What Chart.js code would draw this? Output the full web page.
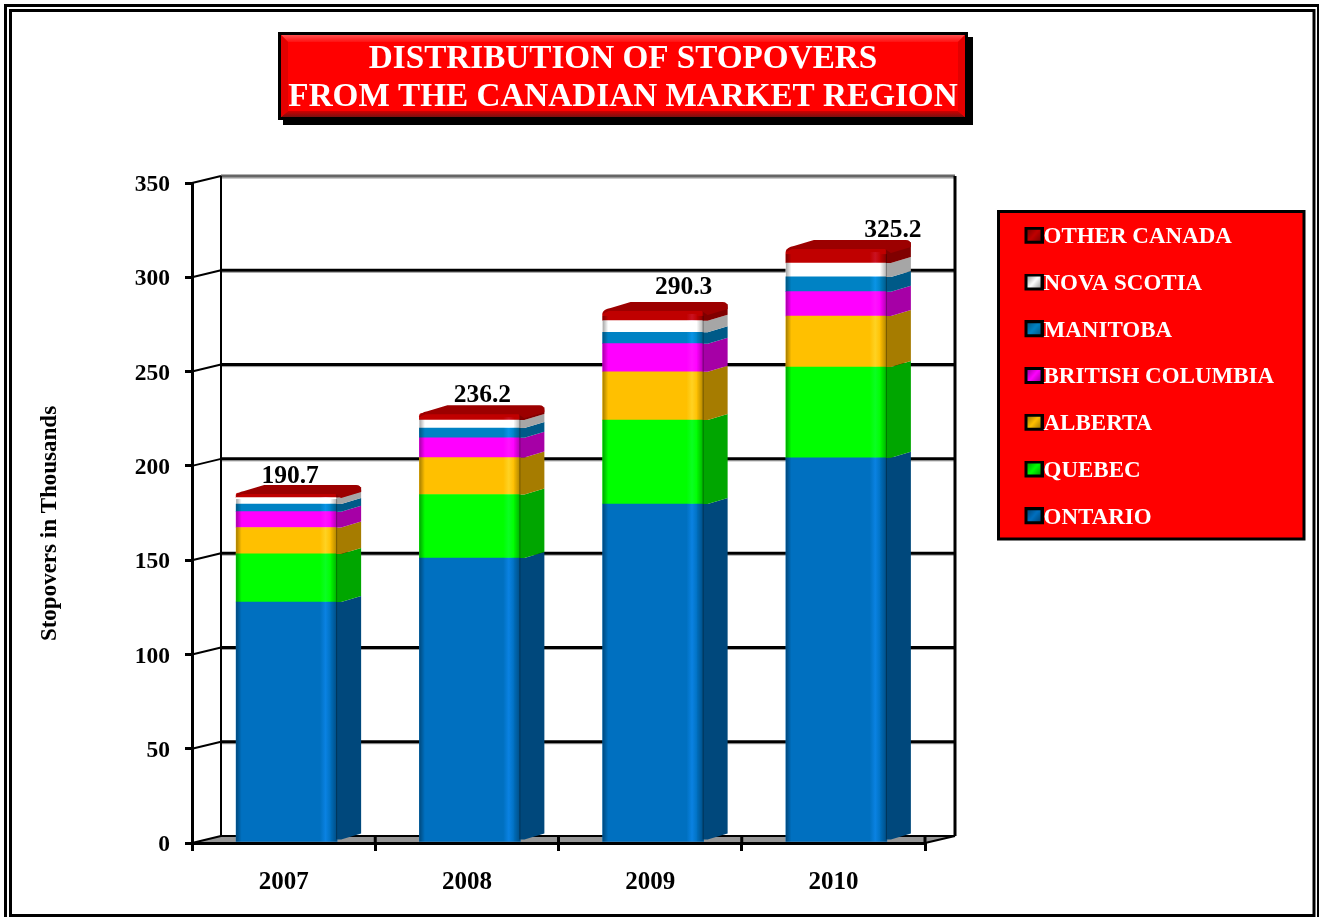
<!DOCTYPE html>
<html>
<head>
<meta charset="utf-8">
<title>Distribution of stopovers</title>
<script src="https://cdn.jsdelivr.net/npm/chart.js@4/dist/chart.umd.js"></script>
<style>
  html, body { margin: 0; padding: 0; background: #fff; }
  canvas { display: block; }
</style>
</head>
<body>
<canvas id="plot1" width="1319" height="917"></canvas>
<script>
var years = ['2007', '2008', '2009', '2010'];
var titleLines = ['DISTRIBUTION OF STOPOVERS', 'FROM THE CANADIAN MARKET REGION'];
var yAxisTitle = 'Stopovers in Thousands';
var totals = ['190.7', '236.2', '290.3', '325.2'];

var ontario = [127.8, 151.1, 179.8, 204.3];
var quebec = [25.5, 33.7, 44.5, 48.1];
var alberta = [14.0, 19.6, 25.6, 27.1];
var britishColumbia = [8.4, 10.5, 14.9, 12.9];
var manitoba = [4.1, 5.2, 6.0, 7.8];
var novaScotia = [3.4, 4.2, 6.2, 7.4];
var otherCanada = [2.4, 3.6, 5.7, 7.9];

var faceColors = ['#0070c0', '#00ff00', '#ffc000', '#ff00ff', '#0082c4', '#ffffff', '#c00000'];
var sideColors = ['#00487c', '#00a600', '#a67c00', '#a600a6', '#005a88', '#a6a6a6', '#800000'];

var serif = '"Liberation Serif", "Times New Roman", serif';
var depthX = 29, depthY = 7;      // offset of the back wall
var barDepthX = 24, barDepthY = 6;
var barShift = 3;
var labelNudgeX = [3.5, 12.5, 30.5, 56.5];
var labelNudgeY = [17, 18, 23, 18];

function line(ctx, x1, y1, x2, y2, color, width) {
  ctx.strokeStyle = color;
  ctx.lineWidth = width;
  ctx.beginPath();
  ctx.moveTo(x1, y1);
  ctx.lineTo(x2, y2);
  ctx.stroke();
}

function poly(ctx, fill, pts) {
  ctx.fillStyle = fill;
  ctx.beginPath();
  ctx.moveTo(pts[0], pts[1]);
  for (var i = 2; i < pts.length; i += 2) {
    ctx.lineTo(pts[i], pts[i + 1]);
  }
  ctx.closePath();
  ctx.fill();
}

// legend swatch, drawn off screen and handed to the legend as a point style
function makeMarker(face, side) {
  var c = document.createElement('canvas');
  c.width = 24;
  c.height = 21;
  var g = c.getContext('2d');
  g.fillStyle = '#000';
  g.fillRect(5, 0, 19, 17);
  var grad = g.createLinearGradient(8, 3, 21, 14);
  grad.addColorStop(0, side);
  grad.addColorStop(0.5, face);
  grad.addColorStop(1, side);
  g.fillStyle = grad;
  g.fillRect(8, 3, 13, 11);
  return c;
}

var stopoverDecor = {
  id: 'stopoverDecor',

  afterDatasetsUpdate: function (chart) {
    chart.data.datasets.forEach(function (ds, i) {
      chart.getDatasetMeta(i).data.forEach(function (bar) {
        bar.x += barShift;
      });
    });
  },

  afterLayout: function (chart) {
    chart.titleBlock.left = 278;
    chart.titleBlock.right = 968;
    var lg = chart.legend;
    lg.left = 1007.25;
    lg.right = 1303;
    lg.top = 202;
    lg.bottom = 600;
  },

  beforeDraw: function (chart) {
    var ctx = chart.ctx;
    var x = chart.scales.x, y = chart.scales.y;
    ctx.save();

    ctx.fillStyle = '#fff';
    ctx.fillRect(0, 0, chart.width, chart.height);

    // double frame
    ctx.strokeStyle = '#000';
    ctx.lineWidth = 3;
    ctx.strokeRect(5.5, 5.5, 1313, 920);
    ctx.strokeRect(10.5, 10.5, 1303.5, 905);

    // title plate with bevelled edges
    ctx.fillStyle = '#000';
    ctx.fillRect(283, 37, 690, 88);
    ctx.fillRect(278, 32, 690, 88);
    ctx.fillStyle = '#ff0000';
    ctx.fillRect(281, 35, 684, 82);
    var bevel = ctx.createLinearGradient(0, 35, 0, 42);
    bevel.addColorStop(0, '#ff5050');
    bevel.addColorStop(1, '#ff1010');
    poly(ctx, bevel, [281, 35, 965, 35, 958, 42, 288, 42]);
    bevel = ctx.createLinearGradient(0, 111, 0, 117);
    bevel.addColorStop(0, '#d00000');
    bevel.addColorStop(1, '#7a1010');
    poly(ctx, bevel, [288, 111, 958, 111, 965, 117, 281, 117]);
    poly(ctx, '#e40000', [281, 35, 288, 42, 288, 111, 281, 117]);
    poly(ctx, '#e40000', [965, 35, 958, 42, 958, 111, 965, 117]);

    // legend plate
    ctx.fillStyle = '#ff0000';
    ctx.fillRect(998, 211, 306, 328);
    ctx.strokeStyle = '#000';
    ctx.lineWidth = 3;
    ctx.strokeRect(998.5, 211.5, 305.5, 327.5);

    // floor
    var base = y.getPixelForValue(0);
    poly(ctx, '#969696', [
      x.left, base,
      x.left + depthX, base - depthY,
      x.right + depthX + 1, base - depthY,
      x.right, base,
    ]);

    // back wall lines and the diagonals on the side walls
    y.ticks.forEach(function (t) {
      var py = y.getPixelForValue(t.value);
      var top = t.value === 350;
      if (t.value !== 0) {
        line(ctx, x.left + depthX, py - depthY + 2, x.right + depthX + 1, py - depthY + 2, '#999', 1);
      }
      line(ctx, x.left + depthX, py - depthY, x.right + depthX + 1, py - depthY, top ? '#666' : '#000', t.value === 0 ? 2 : 3);
      line(ctx, x.left, py, x.left + depthX, py - depthY, '#000', 2);
    });
    line(ctx, x.left + depthX, y.top - depthY, x.left + depthX, base - depthY, '#000', 2);
    line(ctx, x.right + depthX + 1, y.top - depthY, x.right + depthX + 1, base - depthY, '#000', 3);
    line(ctx, x.right, base, x.right + depthX + 1, base - depthY, '#000', 2);

    // short marks running up the floor
    var step = (x.right - x.left) / years.length;
    for (var i = 1; i <= years.length; i++) {
      line(ctx, x.left + step * i, base - depthY, x.left + step * i, base, '#000', 3);
    }

    // axis title
    ctx.translate(50, 523.5);
    ctx.rotate(-Math.PI / 2);
    ctx.fillStyle = '#000';
    ctx.font = 'bold 23px ' + serif;
    ctx.textAlign = 'center';
    ctx.textBaseline = 'middle';
    ctx.fillText(yAxisTitle, 0, 0);
    ctx.restore();
  },

  afterDatasetsDraw: function (chart) {
    var ctx = chart.ctx;
    ctx.save();
    var last = chart.data.datasets.length - 1;

    // side faces
    chart.data.datasets.forEach(function (ds, i) {
      chart.getDatasetMeta(i).data.forEach(function (bar) {
        var r = bar.x + bar.width / 2;
        var b = bar.base - (i === 0 ? 2 : 0);
        poly(ctx, sideColors[i], [
          r - 1, bar.y,
          r + 4, bar.y,
          r + barDepthX, bar.y - barDepthY,
          r + barDepthX, b - barDepthY,
          r + 4, b,
          r - 1, b,
        ]);
      });
    });

    // shading across the front of each column
    var tops = chart.getDatasetMeta(last).data;
    var bottoms = chart.getDatasetMeta(0).data;
    tops.forEach(function (bar, j) {
      var l = bar.x - bar.width / 2;
      var h = bottoms[j].base - bar.y - 6;
      var grad = ctx.createLinearGradient(l, 0, l + bar.width, 0);
      grad.addColorStop(0, 'rgba(0,0,0,0.35)');
      grad.addColorStop(0.055, 'rgba(0,0,0,0)');
      grad.addColorStop(0.93, 'rgba(0,0,0,0)');
      grad.addColorStop(1, 'rgba(0,0,0,0.32)');
      ctx.fillStyle = grad;
      ctx.fillRect(l, bar.y + 6, bar.width, h);

      // highlight strip
      var glow = ctx.createLinearGradient(l + bar.width * 0.83, 0, l + bar.width * 0.94, 0);
      glow.addColorStop(0, 'rgb(0,0,0)');
      glow.addColorStop(0.5, 'rgb(10,18,34)');
      glow.addColorStop(1, 'rgb(0,0,0)');
      ctx.globalCompositeOperation = 'lighter';
      ctx.fillStyle = glow;
      ctx.fillRect(l + bar.width * 0.83, bar.y + 4, bar.width * 0.11, h + 2);
      ctx.globalCompositeOperation = 'source-over';

      // rounded lid
      var r = l + bar.width, t = bar.y;
      ctx.fillStyle = '#9c0000';
      ctx.beginPath();
      ctx.moveTo(l, t + 4);
      ctx.quadraticCurveTo(l + 1, t - 1, l + 8, t - 2);
      ctx.lineTo(l + barDepthX + 4, t - 8);
      ctx.lineTo(r + barDepthX - 5, t - 8);
      ctx.quadraticCurveTo(r + barDepthX, t - 8, r + barDepthX, t - 3);
      ctx.lineTo(r + barDepthX, t - 1);
      ctx.lineTo(r + 4, t + 5);
      ctx.lineTo(r - 2, t + 1);
      ctx.lineTo(l + 6, t + 1);
      ctx.closePath();
      ctx.fill();

      // totals above the columns
      ctx.fillStyle = '#000';
      ctx.font = 'bold 25.5px ' + serif;
      ctx.textAlign = 'center';
      ctx.textBaseline = 'middle';
      ctx.fillText(totals[j], bar.x + labelNudgeX[j], t - labelNudgeY[j]);
    });
    ctx.restore();
  }
};

var chart = new Chart(document.getElementById('plot1'), {
  type: 'bar',
  plugins: [stopoverDecor],
  data: {
    labels: years,
    datasets: [
      { label: 'ONTARIO', data: ontario, backgroundColor: faceColors[0] },
      { label: 'QUEBEC', data: quebec, backgroundColor: faceColors[1] },
      { label: 'ALBERTA', data: alberta, backgroundColor: faceColors[2] },
      { label: 'BRITISH COLUMBIA', data: britishColumbia, backgroundColor: faceColors[3] },
      { label: 'MANITOBA', data: manitoba, backgroundColor: faceColors[4] },
      { label: 'NOVA SCOTIA', data: novaScotia, backgroundColor: faceColors[5] },
      {
        label: 'OTHER CANADA',
        data: otherCanada,
        backgroundColor: faceColors[6],
        borderRadius: { topLeft: 5, topRight: 0, bottomLeft: 0, bottomRight: 0 },
        borderSkipped: false,
      },
    ],
  },
  options: {
    responsive: false,
    animation: false,
    events: [],
    barThickness: 101,
    layout: { padding: { left: 0, top: 40, right: 394, bottom: 0 } },
    plugins: {
      tooltip: { enabled: false },
      title: {
        display: true,
        text: titleLines,
        color: '#fff',
        font: { family: serif, size: 33.2, weight: 'bold', lineHeight: 1.16 },
        padding: { top: 0, bottom: 66 },
      },
      legend: {
        position: 'chartArea',
        align: 'start',
        reverse: true,
        labels: {
          color: '#fff',
          font: { family: serif, size: 23, weight: 'bold', lineHeight: 1.2 },
          usePointStyle: true,
          boxWidth: 1,
          padding: 23.75,
          generateLabels: function (chart) {
            var items = Chart.defaults.plugins.legend.labels.generateLabels(chart);
            items.forEach(function (item) {
              item.pointStyle = makeMarker(faceColors[item.datasetIndex], sideColors[item.datasetIndex]);
            });
            return items;
          },
        },
      },
    },
    scales: {
      x: {
        stacked: true,
        afterFit: function (s) { s.height = 74; },
        border: { color: '#000', width: 3, z: 1 },
        grid: { drawOnChartArea: false, color: '#000', lineWidth: 3, tickLength: 8 },
        ticks: {
          color: '#000',
          padding: 16.5,
          maxRotation: 0,
          font: { family: serif, size: 25, weight: 'bold' },
        },
      },
      y: {
        stacked: true,
        min: 0,
        max: 350,
        afterFit: function (s) { s.width = 192; },
        border: { color: '#000', width: 3 },
        grid: { drawOnChartArea: false, color: '#000', lineWidth: 3, tickLength: 7 },
        ticks: {
          stepSize: 50,
          color: '#000',
          padding: 15,
          labelOffset: 2,
          font: { family: serif, size: 23.5, weight: 'bold' },
        },
      },
    },
  },
});
</script>
</body>
</html>
